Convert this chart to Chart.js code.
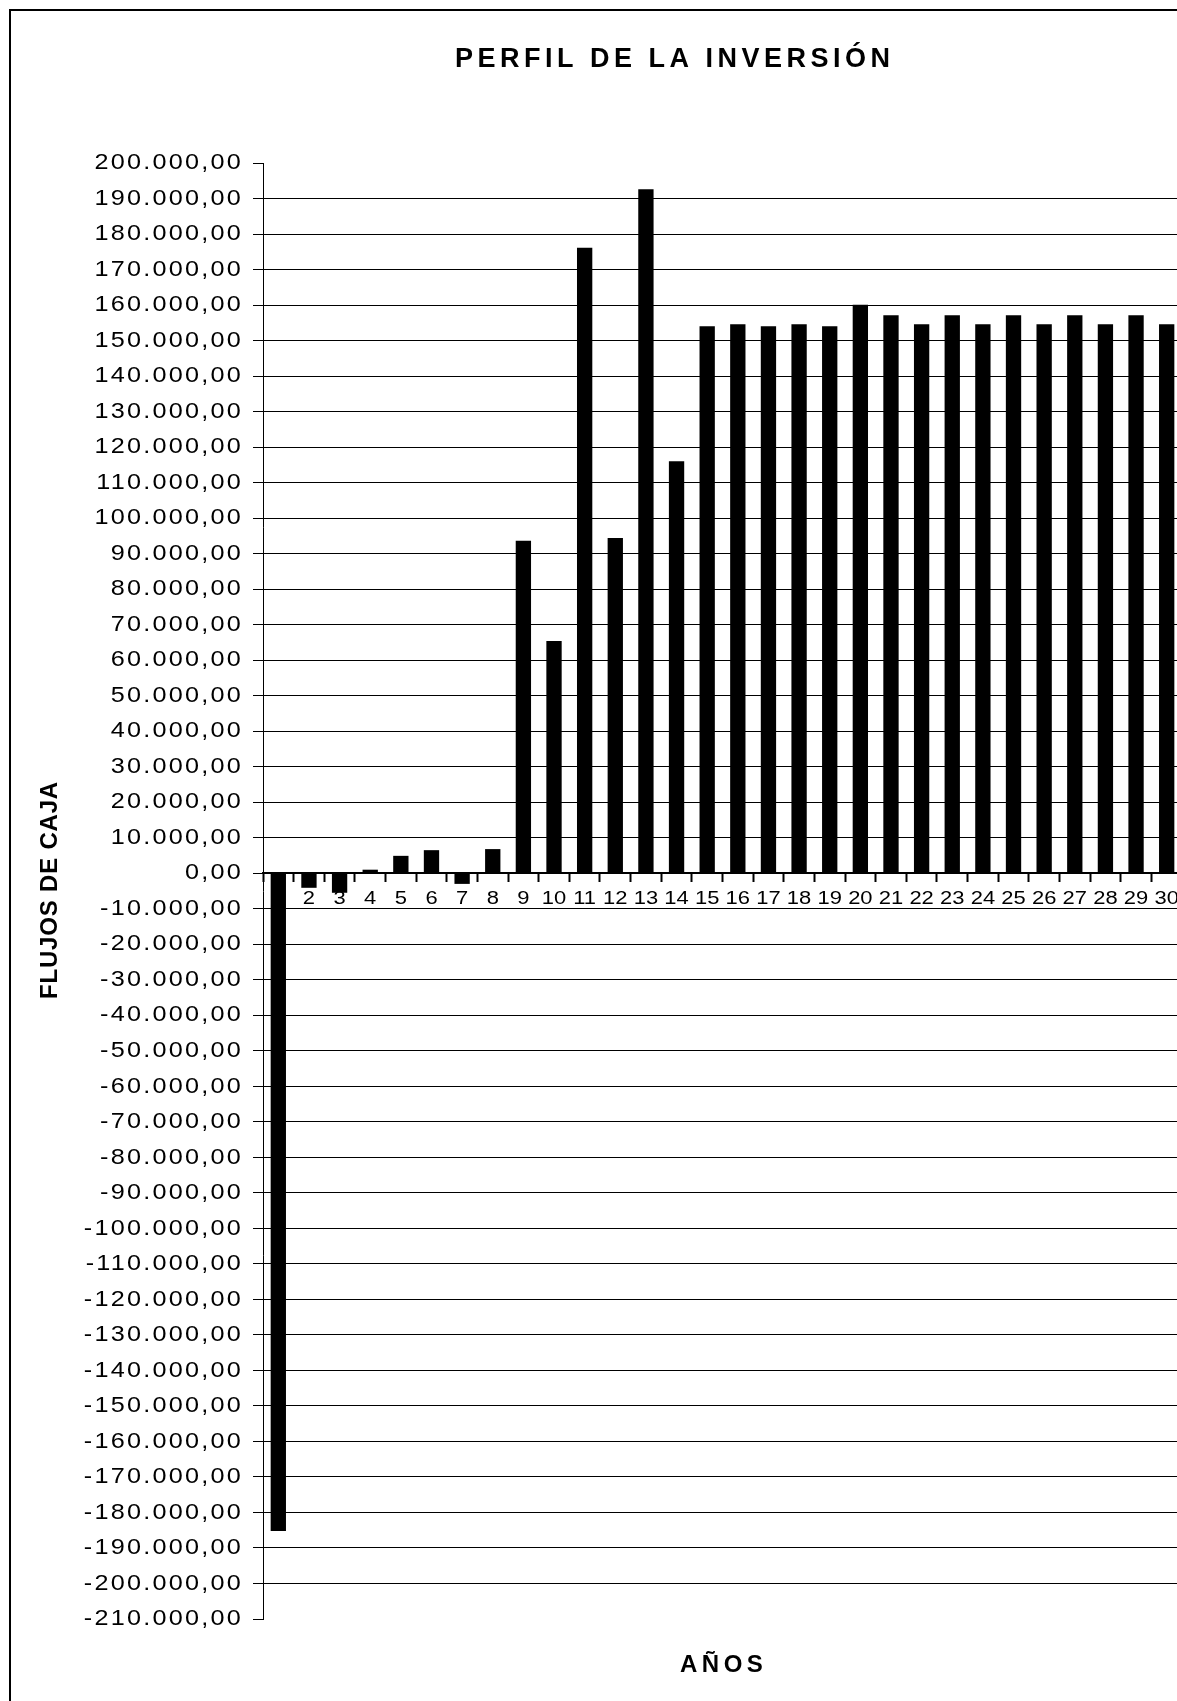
<!DOCTYPE html>
<html>
<head>
<meta charset="utf-8">
<title>Perfil de la inversión</title>
<script src="https://cdn.jsdelivr.net/npm/chart.js@4.4.0/dist/chart.umd.min.js"></script>
<style>
  html, body { margin: 0; padding: 0; overflow: hidden; background: #fff; }
  #frame { position: absolute; left: 9px; top: 9px; width: 1400px; height: 1900px; border: 2px solid #000; }
  #chart { position: absolute; left: 0; top: 0; }
</style>
</head>
<body>
<div id="frame"></div>
<canvas id="chart" width="1200" height="1701"></canvas>
<script>
/* --------------- Data --------------------- */
const years = ["1", "2", "3", "4", "5", "6", "7", "8", "9", "10",
  "11", "12", "13", "14", "15", "16", "17", "18", "19", "20",
  "21", "22", "23", "24", "25", "26", "27", "28", "29", "30"];

const flows = [
  -185200, -4100, -5500, 1000, 4900, 6500, -3000, 6800, 93600, 65400,
  176100, 94400, 192600, 116000, 154000, 154600, 154000, 154600, 154000, 160100,
  157100, 154600, 157100, 154600, 157100, 154600, 157100, 154600, 157100, 154600
];

const yMin = -210000;
const yMax = 200000;
const yStep = 10000;

const chartTitle = "PERFIL DE LA INVERSIÓN";
const xTitle = "AÑOS";
const yTitle = "FLUJOS DE CAJA";

const fontFamily = '"Liberation Sans", Arial, sans-serif';

/* --------------- 200.000,00 style numbers --------------------- */
const formatMoney = (v) => {
  const parts = Math.abs(v).toFixed(2).split(".");
  const whole = parts[0].replace(/\B(?=(\d{3})+(?!\d))/g, ".");
  return (v < 0 ? "-" : "") + whole + "," + parts[1];
};

/* --------------- wide tick labels (the original text is stretched) --------------------- */
const labelStyle = {
  x: { stretch: 1.22, spacing: "0px" },
  y: { stretch: 1.12, spacing: "2px" }
};

const wideLabels = {
  id: "wideLabels",
  beforeDraw(chart) {
    Object.values(chart.scales).forEach((scale) => {
      if (scale._wide) return;
      const draw = scale.drawLabels.bind(scale);
      const st = labelStyle[scale.axis];
      scale.drawLabels = (area) => {
        const ctx = chart.ctx;
        ctx.save();
        ctx.letterSpacing = st.spacing;
        // each label is translated then rotated, so stretch right after the rotate
        ctx.rotate = function (a) {
          CanvasRenderingContext2D.prototype.rotate.call(this, a);
          this.scale(st.stretch, 1);
        };
        draw(area);
        delete ctx.rotate;
        ctx.restore();
      };
      scale._wide = true;
    });
  }
};

/* --------------- titles --------------------- */
const chartTexts = {
  id: "chartTexts",
  afterDraw(chart) {
    const ctx = chart.ctx;
    ctx.save();
    ctx.fillStyle = "#000";
    ctx.textBaseline = "alphabetic";
    ctx.textAlign = "left";

    ctx.font = "bold 27px " + fontFamily;
    ctx.letterSpacing = "4.5px";
    ctx.fillText(chartTitle, 455, 67);

    ctx.font = "bold 24px " + fontFamily;
    ctx.fillText(xTitle, 680, 1672);

    ctx.letterSpacing = "0.8px";
    ctx.translate(57, 890);
    ctx.rotate(-Math.PI / 2);
    ctx.textAlign = "center";
    ctx.fillText(yTitle, 0, 0);
    ctx.restore();
  }
};

/* --------------- Chart --------------------- */
new Chart(document.getElementById("chart"), {
  type: "bar",
  data: {
    labels: years,
    datasets: [{
      data: flows,
      backgroundColor: "#000",
      borderWidth: 0,
      barPercentage: 0.5,
      categoryPercentage: 1
    }]
  },
  options: {
    responsive: false,
    animation: false,
    layout: { padding: { left: 0, top: 163, right: 18, bottom: 82 } },
    plugins: {
      legend: { display: false },
      tooltip: { enabled: false },
      title: { display: false }
    },
    scales: {
      x: {
        position: { y: 0 },
        offset: true,
        grid: {
          display: true,
          drawOnChartArea: false,
          drawTicks: true,
          tickLength: 8,
          tickColor: "#000",
          tickWidth: 2,
          offset: true
        },
        border: { display: true, color: "#000", width: 2 },
        ticks: {
          color: "#000",
          font: { family: fontFamily, size: 18 },
          padding: 7,
          autoSkip: false,
          maxRotation: 0
        }
      },
      y: {
        min: yMin,
        max: yMax,
        afterFit: (s) => { s.width = 263; },
        grid: {
          color: (c) => (c.tick && (c.tick.value === yMax || c.tick.value === yMin)) ? "rgba(0,0,0,0)" : "#000",
          lineWidth: 1,
          tickLength: 10,
          tickColor: "#000",
          drawTicks: true
        },
        border: { color: "#000", width: 1 },
        ticks: {
          stepSize: yStep,
          autoSkip: false,
          color: "#000",
          font: { family: fontFamily, size: 22.5 },
          padding: 10,
          callback: (v) => formatMoney(v)
        }
      }
    }
  },
  plugins: [wideLabels, chartTexts]
});
</script>
</body>
</html>
